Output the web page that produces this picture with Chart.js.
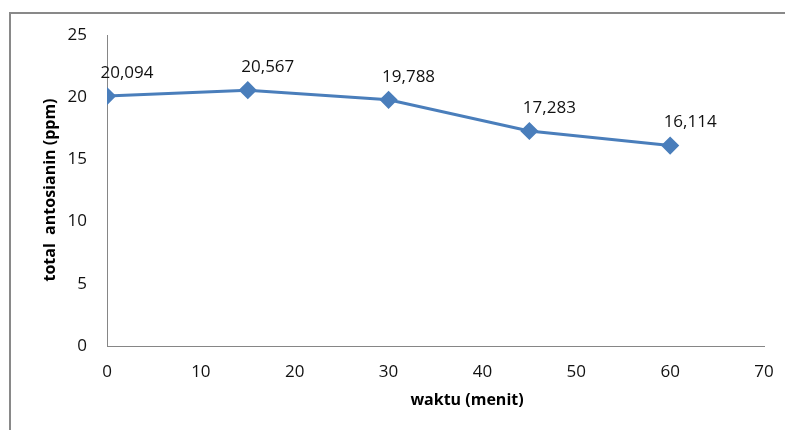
<!DOCTYPE html>
<html>
<head>
<meta charset="utf-8">
<script src="https://cdn.jsdelivr.net/npm/chart.js@4/dist/chart.umd.min.js"></script>
<style>
  html, body { margin: 0; padding: 0; background: #fff; overflow: hidden; }
  #frame { position: absolute; left: 9px; top: 12px; width: 900px; height: 600px; border: 2px solid #898989; box-sizing: border-box; }
  #wrap { position: absolute; left: 0; top: 0; width: 785px; height: 430px; }
</style>
</head>
<body>
<div id="frame"></div>
<div id="wrap"><canvas id="c" width="785" height="430"></canvas></div>
<script>
const times = [0, 15, 30, 45, 60];
const values = [20.094, 20.567, 19.788, 17.283, 16.114];
const valueLabels = ["20,094", "20,567", "19,788", "17,283", "16,114"];
const xTitle = "waktu (menit)";
const yTitle = "total  antosianin (ppm)";

const FONT = "'Open Sans', 'DejaVu Sans', sans-serif";

const annotate = {
  id: 'annotate',
  afterDatasetsDraw(chart) {
    const ctx = chart.ctx;
    const meta = chart.getDatasetMeta(0);
    ctx.save();
    ctx.fillStyle = '#111';
    ctx.font = "17px " + FONT;
    ctx.textAlign = 'center';
    ctx.textBaseline = 'middle';
    meta.data.forEach((pt, i) => {
      ctx.fillText(valueLabels[i], pt.x + 20, pt.y - 23);
    });
    // axis titles
    ctx.font = "bold 16px " + FONT;
    ctx.fillStyle = '#000';
    ctx.fillText(xTitle, 467, 400);
    ctx.translate(50, 190);
    ctx.rotate(-Math.PI / 2);
    ctx.fillText(yTitle, 0, 0);
    ctx.restore();
  }
};

new Chart(document.getElementById('c'), {
  type: 'line',
  data: {
    datasets: [{
      data: times.map((t, i) => ({ x: t, y: values[i] })),
      borderColor: '#4a7ebb',
      backgroundColor: '#4a7ebb',
      borderWidth: 3,
      pointStyle: 'rectRot',
      pointRadius: 7,
      pointHoverRadius: 7,
      tension: 0,
      fill: false
    }]
  },
  options: {
    responsive: false,
    animation: false,
    events: [],
    layout: { padding: { left: 0, right: 21, top: 35, bottom: 0 } },
    plugins: { legend: { display: false }, tooltip: { enabled: false } },
    scales: {
      x: {
        type: 'linear',
        min: 0, max: 70,
        ticks: { stepSize: 10, color: '#111', font: { family: FONT, size: 17 }, padding: 16, maxRotation: 0 },
        grid: { display: false, drawTicks: false },
        border: { display: true, color: '#868686', width: 1 },
        afterFit(s) { s.height = 84; s.paddingLeft = 0; s.paddingRight = 0; }
      },
      y: {
        min: 0, max: 25,
        ticks: { stepSize: 5, color: '#111', font: { family: FONT, size: 17 }, padding: 20 },
        grid: { display: false, drawTicks: false },
        border: { display: true, color: '#868686', width: 1 },
        afterFit(s) { s.width = 107; s.paddingTop = 0; s.paddingBottom = 0; }
      }
    }
  },
  plugins: [annotate]
});
</script>
</body>
</html>
